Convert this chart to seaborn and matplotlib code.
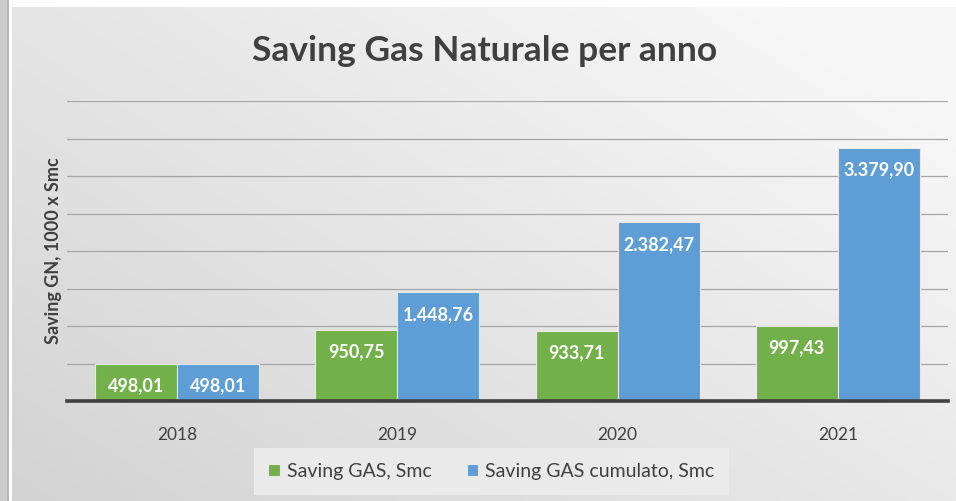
import matplotlib
matplotlib.use("Agg")
import matplotlib.pyplot as plt
import numpy as np
import pandas as pd
import seaborn as sns


years = ["2018", "2019", "2020", "2021"]
saving_gas = [498.01, 950.75, 933.71, 997.43]
saving_cumulato = [498.01, 1448.76, 2382.47, 3379.90]
series_names = ["Saving GAS, Smc", "Saving GAS cumulato, Smc"]

TITLE = "Saving Gas Naturale per anno"
Y_LABEL = "Saving GN, 1000 x Smc"

GREEN = "#72b04a"
BLUE = "#5e9dd6"
TEXT_DARK = "#404040"
FONT = ["Lato", "DejaVu Sans"]


def fmt_it(value):
    # italian style: 3.379,90
    s = f"{value:,.2f}"
    return s.replace(",", "X").replace(".", ",").replace("X", ".")


def draw_background(fig):
    bg = fig.add_axes([0, 0, 1, 1], zorder=-10)
    bg.set_axis_off()
    w, h = 956, 501
    xx, yy = np.meshgrid(np.linspace(0, 1, w), np.linspace(0, 1, h))
    # lighter toward upper right, darker at left and bottom
    t = np.clip(0.55 * xx + 0.45 * (1 - yy) + 0.1, 0, 1)
    v = 0.81 + 0.16 * t
    img = np.dstack([v, v, v])
    img[:, :12] = 1.0
    img[:7, :] = 1.0
    img[:, :9] = 0.80
    img[:, 7:9] = 0.72
    bg.imshow(img, extent=[0, 1, 0, 1], aspect="auto", origin="upper")
    bg.set_xlim(0, 1)
    bg.set_ylim(0, 1)


def main():
    df = pd.DataFrame({
        "anno": years * 2,
        "serie": [series_names[0]] * len(years) + [series_names[1]] * len(years),
        "valore": saving_gas + saving_cumulato,
    })

    sns.set_theme(style="white")
    plt.rcParams["font.family"] = FONT

    fig = plt.figure(figsize=(9.56, 5.01), dpi=100)
    draw_background(fig)

    ax = fig.add_axes([0.0701, 0.1996, 0.9215, 0.5988])
    ax.patch.set_alpha(0)

    sns.barplot(
        data=df, x="anno", y="valore", hue="serie",
        palette=[GREEN, BLUE], width=0.745, gap=0.0,
        edgecolor="#e8e8e8", linewidth=0.8, saturation=1, ax=ax,
    )

    ax.set_ylim(0, 4000)
    ax.set_yticks(np.arange(0, 4001, 500))
    ax.yaxis.grid(True, color="#a6a6a6", linewidth=0.9)
    ax.set_axisbelow(True)
    ax.tick_params(axis="y", left=False, labelleft=False)
    ax.tick_params(axis="x", bottom=False, labelsize=12.5, colors=TEXT_DARK, pad=13)
    ax.set_xlim(-0.5, 3.5)
    for spine in ["top", "right", "left"]:
        ax.spines[spine].set_visible(False)
    ax.spines["bottom"].set_color("#404040")
    ax.spines["bottom"].set_linewidth(2.6)
    ax.spines["bottom"].set_zorder(5)

    for container in ax.containers:
        labels = [fmt_it(bar.get_height()) for bar in container]
        ax.bar_label(container, labels=labels, label_type="edge", padding=-22,
                     color="white", fontsize=13, fontweight="bold")

    ax.set_xlabel("")
    ax.set_ylabel(Y_LABEL, fontsize=13, fontweight="bold", color=TEXT_DARK)
    ax.yaxis.set_label_coords(-0.006, 0.5)

    fig.text(0.507, 0.898, TITLE, ha="center", va="center",
             fontsize=25.5, fontweight="bold", color=TEXT_DARK)

    ax.legend_.remove()
    handles, labels = ax.get_legend_handles_labels()
    leg = fig.legend(
        handles, labels, loc="center", bbox_to_anchor=(0.514, 0.059), ncol=2,
        frameon=True, fontsize=14, handlelength=0.6, handleheight=0.6,
        handletextpad=0.35, columnspacing=1.8, borderpad=0.75,
    )
    leg.get_frame().set_facecolor("#ececec")
    leg.get_frame().set_edgecolor("none")
    leg.get_frame().set_alpha(0.9)
    leg.get_frame().set_boxstyle("square", pad=0.0)
    for t in leg.get_texts():
        t.set_color(TEXT_DARK)

    fig.savefig("out.png", dpi=100)
    plt.close(fig)


if __name__ == "__main__":
    main()
